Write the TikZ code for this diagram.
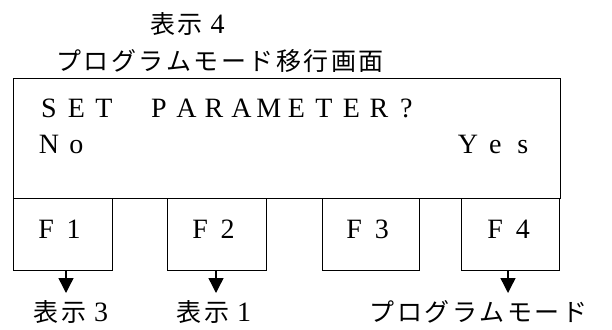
\documentclass[tikz,border=0pt]{standalone}
\usepackage{fontspec}
\setmainfont{Liberation Serif}
\newfontfamily\jp{Noto Sans CJK JP}
\usetikzlibrary{arrows.meta}
\makeatletter
\newcommand\pitched[2]{\def\pitchw{#1}\pitch@loop#2\relax}
\def\pitch@loop#1{\ifx#1\relax\else\makebox[\pitchw][c]{#1}\expandafter\pitch@loop\fi}
\makeatother
\newcommand\latd[1]{\makebox[27.5pt][c]{\rmfamily\fontsize{28pt}{32pt}\selectfont #1}}
\begin{document}
\begin{tikzpicture}[x=1pt,y=-1pt,
  box/.style={draw, line width=1.4pt, inner sep=0pt, anchor=north west},
  jptext/.style={inner sep=0pt, anchor=base, font=\jp\fontsize{25pt}{30pt}\selectfont},
  lat/.style={inner sep=0pt, anchor=base west, font=\fontsize{28pt}{32pt}\selectfont},
  flab/.style={inner sep=0pt, anchor=base, font=\fontsize{28pt}{32pt}\selectfont},
  arr/.style={line width=1.4pt, -{Triangle[width=15pt,length=15pt]}}]
\useasboundingbox (0,0) rectangle (612,329);
% screen and keys
\node[box, minimum width=547pt, minimum height=120pt] (screen) at (13,78) {};
\node[box, minimum width=99pt, minimum height=72pt] (f1) at (13,198) {};
\node[box, minimum width=99pt, minimum height=72pt] (f2) at (167,198) {};
\node[box, minimum width=97pt, minimum height=72pt] (f3) at (322,198) {};
\node[box, minimum width=98pt, minimum height=72pt] (f4) at (461,198) {};
% titles
\node[jptext] (t1) at (190,34) {\pitched{27.5pt}{表示}\latd{4}};
\node[jptext] (t2) at (220,70.5) {\pitched{27.5pt}{プログラムモード移行画面}};
% screen text
\node[lat] (s1) at (35,117) {\pitched{27.5pt}{SET~PARAMETER?}};
\node[lat] (s2) at (35,153) {\pitched{27.5pt}{No}};
\node[lat] (s3) at (454,153) {\pitched{27.5pt}{Yes}};
% key labels
\node[flab] (k1) at (60,238) {\pitched{27.5pt}{F1}};
\node[flab] (k2) at (214,238) {\pitched{27.5pt}{F2}};
\node[flab] (k3) at (368,238) {\pitched{27.5pt}{F3}};
\node[flab] (k4) at (509,238) {\pitched{27.5pt}{F4}};
% arrows
\coordinate (a1) at (66,293);
\coordinate (a2) at (216,293);
\coordinate (a4) at (508,293);
\draw[arr] (f1.south -| a1) -- (a1);
\draw[arr] (f2.south -| a2) -- (a2);
\draw[arr] (f4.south -| a4) -- (a4);
% targets
\node[jptext] (b1) at (73.5,321) {\pitched{27.5pt}{表示}\latd{3}};
\node[jptext] (b2) at (216.5,321) {\pitched{27.5pt}{表示}\latd{1}};
\node[jptext] (b3) at (478.5,321) {\pitched{27.5pt}{プログラムモード}};
\end{tikzpicture}
\end{document}
